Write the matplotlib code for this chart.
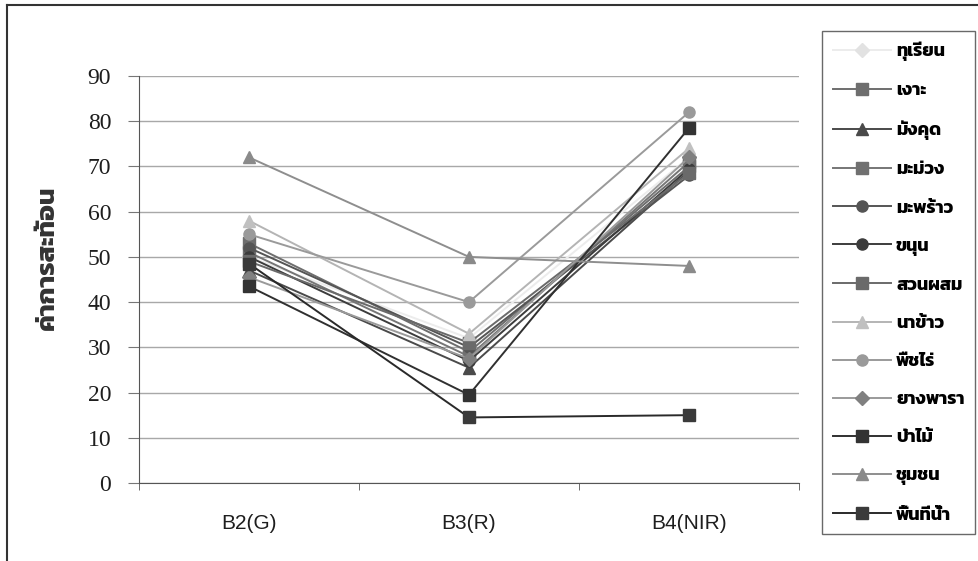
import matplotlib
matplotlib.use("Agg")
import matplotlib.pyplot as plt
from matplotlib import font_manager as fm
from matplotlib.ft2font import FT2Font
from matplotlib.lines import Line2D

# ---------------- data ----------------
categories = ["B2(G)", "B3(R)", "B4(NIR)"]
series_names = ["ทุเรียน", "เงาะ", "มังคุด", "มะม่วง", "มะพร้าว", "ขนุน", "สวนผสม",
                "นาข้าว", "พืชไร่", "ยางพารา", "ป่าไม้", "ชุมชน", "พื้นที่น้ำ"]
durian = [50, 32, 72]
rambutan = [53, 29, 70]
mangosteen = [47, 25.5, 69]
mango = [51, 28, 71]
coconut = [52, 30, 68]
jackfruit = [50, 27, 69.5]
mixed_orchard = [49, 31, 68.5]
paddy = [58, 33, 74]
field_crop = [55, 40, 82]
rubber = [45.5, 27.5, 72]
forest = [43.5, 19.5, 78.5]
urban = [72, 50, 48]
water = [48.5, 14.5, 15]
y_ticks = [0, 10, 20, 30, 40, 50, 60, 70, 80, 90]
y_label = "ค่าการสะท้อน"

all_series = [durian, rambutan, mangosteen, mango, coconut, jackfruit, mixed_orchard,
              paddy, field_crop, rubber, forest, urban, water]

# ---------------- styles ----------------
line_colors = ["#ececec", "#6e6e6e", "#4a4a4a", "#767676", "#555555", "#3c3c3c", "#6a6a6a",
               "#b4b4b4", "#9a9a9a", "#9a9a9a", "#303030", "#8e8e8e", "#2a2a2a"]
marker_colors = ["#e2e2e2", "#6e6e6e", "#4a4a4a", "#707070", "#555555", "#3c3c3c", "#6a6a6a",
                 "#c0c0c0", "#9a9a9a", "#808080", "#333333", "#8a8a8a", "#3a3a3a"]
markers = ["D", "s", "^", "s", "o", "o", "s", "^", "o", "D", "s", "^", "s"]

# ---------------- fonts ----------------
def find_thai_font():
    cands = []
    for f in fm.fontManager.ttflist:
        try:
            cm = FT2Font(f.fname).get_charmap()
        except Exception:
            continue
        if 0x0E17 in cm and 0x0E49 in cm and 0x0E32 in cm:
            w = f.weight if isinstance(f.weight, int) else (700 if "bold" in str(f.weight) else 400)
            cands.append((w, f.name))
    if not cands:
        return None
    cands.sort(key=lambda t: -t[0])
    return cands[0][1]

thai = find_thai_font()
thai_family = [thai, "DejaVu Sans"] if thai else ["DejaVu Sans"]

W, H = 979, 561
fig = plt.figure(figsize=(W / 100, H / 100), dpi=100)
fig.patch.set_facecolor("white")

ax_left, ax_right, ax_top, ax_bottom = 139, 799, 76, 483
ax = fig.add_axes([ax_left / W, 1 - ax_bottom / H, (ax_right - ax_left) / W, (ax_bottom - ax_top) / H])

x = list(range(len(categories)))
handles = []
for name, vals, lc, mc, mk in zip(series_names, all_series, line_colors, marker_colors, markers):
    h, = ax.plot(x, vals, color=lc, lw=1.4, marker=mk, markersize=8 if mk != "D" else 7,
                 markerfacecolor=mc, markeredgecolor=mc, label=name, zorder=3)
    handles.append(h)

ax.set_xlim(-0.5, len(categories) - 0.5)
ax.set_ylim(0, 90)
ax.set_yticks(y_ticks)
ax.set_yticklabels([str(v) for v in y_ticks], fontfamily="Liberation Serif", fontsize=17, color="#1e1e1e")
ax.yaxis.grid(True, color="#a8a8a8", lw=1.0)
ax.set_axisbelow(True)
ax.set_xticks(x)
ax.set_xticklabels(categories, fontfamily="Liberation Sans", fontsize=15, color="#1e1e1e")
ax.tick_params(axis="x", length=0, pad=22)
ax.set_xticks([-0.5, 0.5, 1.5, 2.5], minor=True)
ax.tick_params(axis="x", which="minor", length=5, color="#555555")
ax.tick_params(axis="y", length=8, color="#777777", pad=12)
for s in ["top", "right"]:
    ax.spines[s].set_visible(False)
ax.spines["left"].set_color("#555555")
ax.spines["bottom"].set_color("#555555")

fig.text(48 / W, 1 - 258 / H, y_label, rotation=90, ha="center", va="center",
         fontsize=19, fontweight="bold", family=thai_family, color="#333333")

leg = fig.legend(handles=handles, loc="upper left", bbox_to_anchor=(813 / W, 1 - 22 / H),
                 frameon=True, fancybox=False, edgecolor="#444444", handlelength=3.2,
                 labelspacing=1.17, borderpad=0.6, handletextpad=0.3,
                 prop={"family": thai_family, "weight": "bold", "size": 13})
leg.get_frame().set_linewidth(1.0)

# outer frame (left & top)
fig.add_artist(Line2D([7 / W, 7 / W], [0, 1 - 5 / H], color="#333333", lw=1.5))
fig.add_artist(Line2D([7 / W, 1], [1 - 5 / H, 1 - 5 / H], color="#333333", lw=1.5))

fig.savefig("out.png", dpi=100, facecolor="white")
